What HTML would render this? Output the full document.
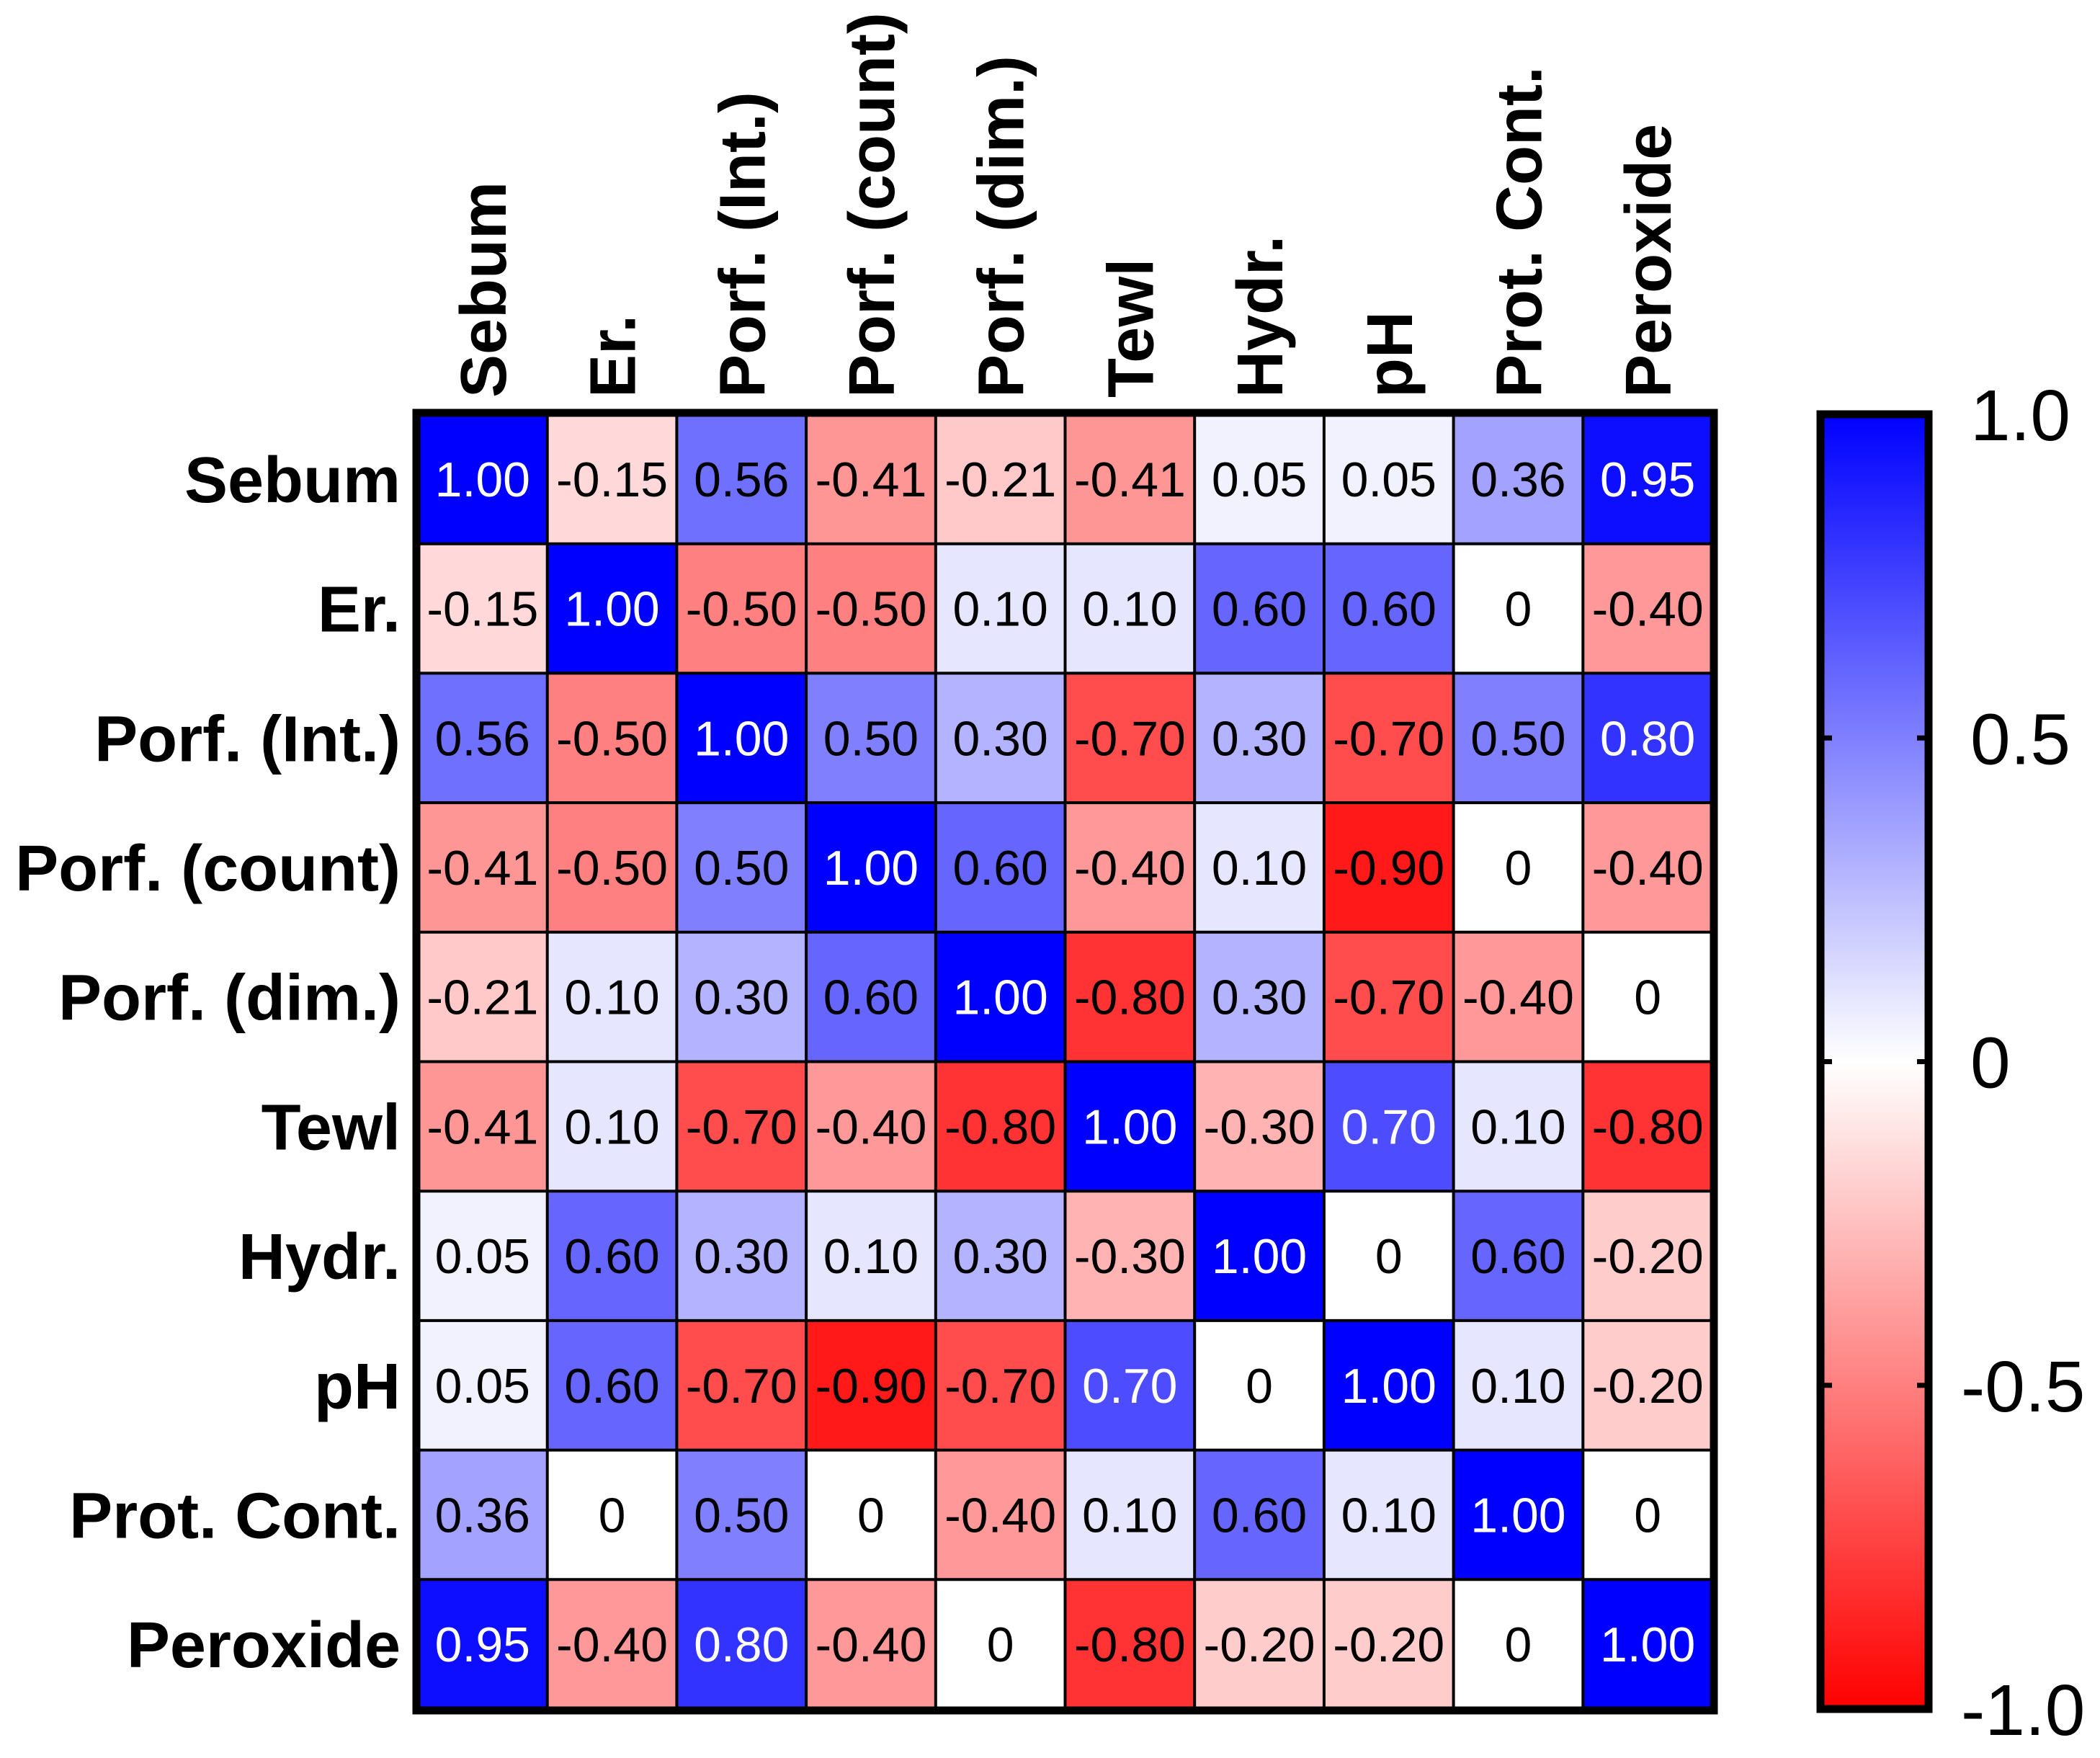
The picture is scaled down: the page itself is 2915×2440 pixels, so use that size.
<!DOCTYPE html>
<html><head><meta charset="utf-8"><style>html,body{margin:0;padding:0;background:#fff}svg{display:block}</style></head>
<body>
<svg id="chart" width="2915" height="2440" viewBox="0 0 2915 2440" xmlns="http://www.w3.org/2000/svg" font-family="Liberation Sans, Arial, sans-serif">
<defs><linearGradient id="cbg" x1="0" y1="0" x2="0" y2="1"><stop offset="0" stop-color="#0000ff"/><stop offset="0.5" stop-color="#ffffff"/><stop offset="1" stop-color="#ff0000"/></linearGradient></defs>
<g id="cells"></g><g id="labels"></g>
</svg>
<script>
const categories = ["Sebum","Er.","Porf. (Int.)","Porf. (count)","Porf. (dim.)","Tewl","Hydr.","pH","Prot. Cont.","Peroxide"];
const row0 = [1.00,-0.15,0.56,-0.41,-0.21,-0.41,0.05,0.05,0.36,0.95];
const row1 = [-0.15,1.00,-0.50,-0.50,0.10,0.10,0.60,0.60,0,-0.40];
const row2 = [0.56,-0.50,1.00,0.50,0.30,-0.70,0.30,-0.70,0.50,0.80];
const row3 = [-0.41,-0.50,0.50,1.00,0.60,-0.40,0.10,-0.90,0,-0.40];
const row4 = [-0.21,0.10,0.30,0.60,1.00,-0.80,0.30,-0.70,-0.40,0];
const row5 = [-0.41,0.10,-0.70,-0.40,-0.80,1.00,-0.30,0.70,0.10,-0.80];
const row6 = [0.05,0.60,0.30,0.10,0.30,-0.30,1.00,0,0.60,-0.20];
const row7 = [0.05,0.60,-0.70,-0.90,-0.70,0.70,0,1.00,0.10,-0.20];
const row8 = [0.36,0,0.50,0,-0.40,0.10,0.60,0.10,1.00,0];
const row9 = [0.95,-0.40,0.80,-0.40,0,-0.80,-0.20,-0.20,0,1.00];
const matrix = [row0,row1,row2,row3,row4,row5,row6,row7,row8,row9];
const cbTicks = [1.0,0.5,0,-0.5,-1.0];
const cbTickLabels = ["1.0","0.5","0","-0.5","-1.0"];

const NS="http://www.w3.org/2000/svg";
const svg=document.getElementById('chart');
const gx0=580,gy0=575,gx1=2377,gy1=2372;
const n=categories.length;
const pw=(gx1-gx0)/n, ph=(gy1-gy0)/n;
const xPos=i=>gx0+i*pw, yPos=i=>gy0+i*ph;
const cbX0=2527,cbX1=2677,cbY0=575,cbY1=2372;
const cbY=v=>cbY0+(1-v)/2*(cbY1-cbY0);
function color(v){
  if(v>=0){const c=Math.round(255*(1-v));return `rgb(${c},${c},255)`;}
  const c=Math.round(255*(1+v));return `rgb(255,${c},${c})`;
}
function el(tag,attrs,parent){const e=document.createElementNS(NS,tag);for(const k in attrs)e.setAttribute(k,attrs[k]);(parent||svg).appendChild(e);return e;}

matrix.forEach((row,r)=>{row.forEach((v,c)=>{
  const rc=el('rect',{x:xPos(c),y:yPos(r),width:pw+0.5,height:ph+0.5,fill:color(v)});
  
  
  const t=el('text',{x:xPos(c)+pw/2,y:yPos(r)+ph/2+24,'text-anchor':'middle','font-size':68,fill:v>=0.65?'#fff':'#000'});
  t.textContent=v===0?'0':v.toFixed(2);
  
  
});});
for(let i=1;i<n;i++){
  el('line',{x1:xPos(i),y1:gy0,x2:xPos(i),y2:gy1,stroke:'#000','stroke-width':4});
  el('line',{x1:gx0,y1:yPos(i),x2:gx1,y2:yPos(i),stroke:'#000','stroke-width':4});
}
const border=el('rect',{x:gx0-2,y:gy0-2,width:gx1-gx0+4,height:gy1-gy0+4,fill:'none',stroke:'#000','stroke-width':11});



categories.forEach((name,i)=>{
  const t=el('text',{x:556,y:yPos(i)+ph/2+32,'text-anchor':'end','font-size':90,'font-weight':'bold'});
  t.textContent=name;
  
  
  const cx=xPos(i)+pw/2+32;
  const u=el('text',{x:cx,y:552,'text-anchor':'start','font-size':90,'font-weight':'bold',transform:`rotate(-90 ${cx} 552)`});
  u.textContent=name;
  
  
});

const cb=el('rect',{x:cbX0,y:cbY0,width:cbX1-cbX0,height:cbY1-cbY0,fill:'url(#cbg)',stroke:'#000','stroke-width':11});


cbTicks.forEach((v,i)=>{
  const y=cbY(v);
  if(v<1&&v>-1){
    el('line',{x1:cbX0,y1:y,x2:cbX0+16,y2:y,stroke:'#000','stroke-width':7});
    el('line',{x1:cbX1-16,y1:y,x2:cbX1,y2:y,stroke:'#000','stroke-width':7});
  }
  const t=el('text',{x:v<0?2722:2735,y:y+36,'font-size':100});
  t.textContent=cbTickLabels[i];
  
  
});
</script>
</body></html>
